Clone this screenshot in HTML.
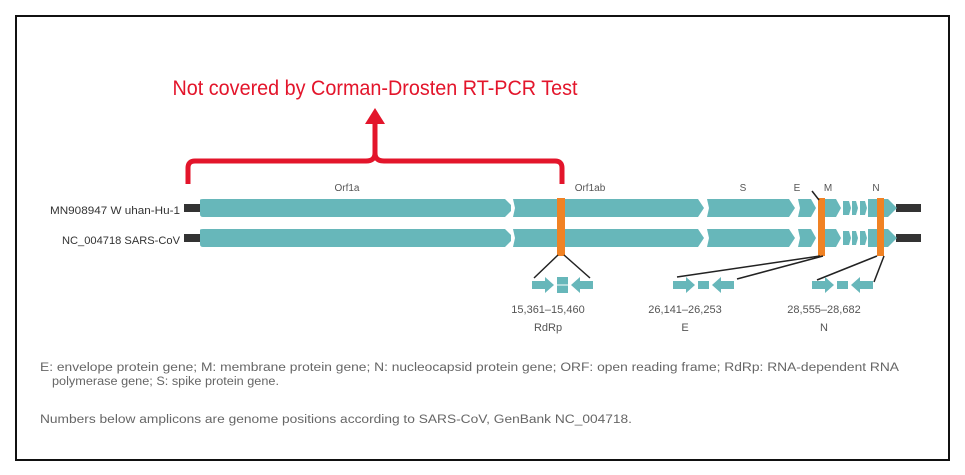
<!DOCTYPE html>
<html><head><meta charset="utf-8"><style>
html,body{margin:0;padding:0;background:#fff;}
svg{display:block;}
text{font-family:"Liberation Sans",sans-serif;}
</style></head><body>
<svg width="965" height="475" viewBox="0 0 965 475" xmlns="http://www.w3.org/2000/svg">
<rect x="16" y="16" width="933" height="444" fill="#fff" stroke="#111" stroke-width="2"/>
<text x="375" y="95" font-size="21" fill="#e3152b" text-anchor="middle" textLength="405" lengthAdjust="spacingAndGlyphs">Not covered by Corman-Drosten RT-PCR Test</text>
<path d="M375 157 V122" stroke="#e3152b" stroke-width="5" fill="none"/>
<polygon points="375,108 365,124 385,124" fill="#e3152b"/>
<path d="M188 184 V168 Q188 161 195 161 H366 Q375 161 375 153 Q375 161 384 161 H555 Q562 161 562 168 V184" stroke="#e3152b" stroke-width="5" fill="none"/>
<g font-size="10" fill="#555" text-anchor="middle">
<text x="347" y="191">Orf1a</text><text x="590" y="191">Orf1ab</text><text x="743" y="191">S</text>
<text x="797" y="191">E</text><text x="828" y="191">M</text><text x="876" y="191">N</text>
</g>
<g font-size="11" fill="#333" text-anchor="end">
<text x="180" y="214" textLength="130" lengthAdjust="spacingAndGlyphs">MN908947 W uhan-Hu-1</text>
<text x="180" y="244" textLength="118" lengthAdjust="spacingAndGlyphs">NC_004718 SARS-CoV</text>
</g>
<defs>
<g id="row" fill="#67b7ba">
<rect x="184" y="-4" width="16" height="8" fill="#333"/>
<rect x="896" y="-4" width="25" height="8" fill="#333"/>
<path d="M200 -8 Q200 -9 203 -9 H505 L511 -3 V3 L505 9 H203 Q200 9 200 6 Z"/>
<path d="M513 -9 H698 L704 0 L698 9 H513 L515 0 Z"/>
<path d="M707 -9 H789 L795 0 L789 9 H707 L709 0 Z"/>
<path d="M798 -9 H811 L816 0 L811 9 H798 L800 0 Z"/>
<path d="M824 -9 H836 L841 0 L836 9 H824 Z"/>
<path d="M843 -7 H849 L851 0 L849 7 H843 Z"/>
<path d="M852 -7 H856 L858 0 L856 7 H852 Z"/>
<path d="M860 -7 H865 L867 0 L865 7 H860 Z"/>
<path d="M868 -9 H888 L897 0 L888 9 H868 Z"/>
</g>
</defs>
<use href="#row" x="0" y="208"/>
<use href="#row" x="0" y="238"/>
<g fill="#f08224">
<rect x="557" y="198" width="8" height="58"/>
<rect x="818" y="198" width="7" height="58"/>
<rect x="877" y="198" width="7" height="58"/>
</g>
<g stroke="#222" stroke-width="1.5">
<line x1="558" y1="255" x2="534" y2="278"/><line x1="564" y1="255" x2="590" y2="278"/>
<line x1="820" y1="256" x2="677" y2="277"/><line x1="823" y1="256" x2="737" y2="279"/>
<line x1="812" y1="191" x2="819" y2="200"/>
<line x1="877" y1="256" x2="817" y2="280"/><line x1="884" y1="256" x2="874" y2="282"/>
</g>
<defs>
<g id="amp" fill="#67b7ba">
<path d="M0 -4 H13 V-8 L22 0 L13 8 V4 H0 Z"/>
<rect x="25" y="-4" width="11" height="8"/>
<path d="M61 -4 H48 V-8 L39 0 L48 8 V4 H61 Z"/>
</g>
</defs>
<use href="#amp" x="532" y="285"/>
<rect x="557" y="277" width="11" height="16" fill="#67b7ba"/>
<line x1="557" y1="285" x2="568" y2="285" stroke="#fff" stroke-width="1"/>
<use href="#amp" x="673" y="285"/>
<use href="#amp" x="812" y="285"/>
<g font-size="11" fill="#555" text-anchor="middle">
<text x="548" y="313">15,361–15,460</text><text x="548" y="331">RdRp</text>
<text x="685" y="313">26,141–26,253</text><text x="685" y="331">E</text>
<text x="824" y="313">28,555–28,682</text><text x="824" y="331">N</text>
</g>
<g font-size="11.5" fill="#666">
<text x="40" y="371" textLength="859" lengthAdjust="spacingAndGlyphs">E: envelope protein gene; M: membrane protein gene; N: nucleocapsid protein gene; ORF: open reading frame; RdRp: RNA-dependent RNA</text>
<text x="52" y="385" textLength="227" lengthAdjust="spacingAndGlyphs">polymerase gene; S: spike protein gene.</text>
<text x="40" y="423" textLength="592" lengthAdjust="spacingAndGlyphs">Numbers below amplicons are genome positions according to SARS-CoV, GenBank NC_004718.</text>
</g>
</svg>
</body></html>
